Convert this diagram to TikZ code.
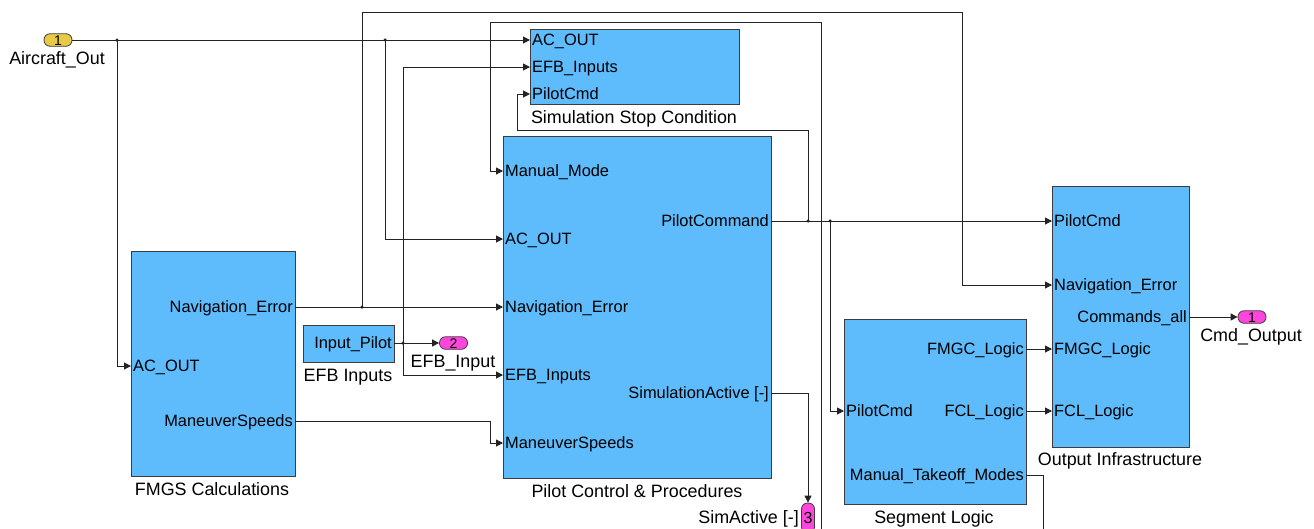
\documentclass[tikz,border=0pt]{standalone}
\usepackage{fontspec}
\setmainfont{Liberation Sans}
\usetikzlibrary{arrows.meta}
\definecolor{blkfill}{RGB}{94,187,252}
\definecolor{blkborder}{RGB}{60,60,60}
\definecolor{inyel}{RGB}{232,202,70}
\definecolor{outpink}{RGB}{255,70,220}
\definecolor{wirec}{RGB}{35,35,35}
\begin{document}
\begin{tikzpicture}[x=1pt,y=-1pt,
  block/.style={draw=blkborder, fill=blkfill, line width=1.2pt, inner sep=0, anchor=north west},
  wire/.style={draw=wirec, line width=1pt},
  arr/.style={wire, -{Triangle[length=7pt,width=7pt]}},
  portlbl/.style={font=\fontsize{16.4}{16}\selectfont, inner sep=0, text height=11.7pt, text depth=0pt},
  inlbl/.style={portlbl, anchor=west, xshift=2pt},
  outlbl/.style={portlbl, anchor=east, xshift=-2pt},
  title/.style={font=\fontsize{17.9}{18}\selectfont, inner sep=0, text height=12.8pt, text depth=0pt},
  jdot/.style={circle, fill=wirec, inner sep=0, minimum size=3.5pt},
  pill/.style={draw=blkborder, line width=0.8pt, rounded corners=6pt, inner sep=0, font=\fontsize{14}{14}\selectfont, text height=10pt, text depth=0pt},
  inport/.style={pill, fill=inyel, minimum width=28pt, minimum height=12.5pt},
  outport/.style={pill, fill=outpink, minimum width=28pt, minimum height=12.5pt},
]
\clip (0,0) rectangle (1314,528);
\fill[white] (0,0) rectangle (1314,528);

% ---------------- blocks ----------------
\node[block, minimum width=209pt, minimum height=75pt] (sim) at (530,29) {};
\node[block, minimum width=268pt, minimum height=342pt] (pc) at (503,136) {};
\node[block, minimum width=164pt, minimum height=225pt] (fm) at (131,251) {};
\node[block, minimum width=91pt, minimum height=37pt] (efb) at (303,325) {};
\node[block, minimum width=182pt, minimum height=185pt] (seg) at (844,319) {};
\node[block, minimum width=137pt, minimum height=261pt] (out) at (1052,186) {};

% block titles
\node[title] (simT) at (634,117) {Simulation Stop Condition};
\node[title] (pcT) at (637,491) {Pilot Control \& Procedures};
\node[title] (fmT) at (212,489) {FMGS Calculations};
\node[title] (efbT) at (348,375) {EFB Inputs};
\node[title] (segT) at (934,517) {Segment Logic};
\node[title] (outT) at (1120,459) {Output Infrastructure};

% ---------------- port coordinates ----------------
\coordinate (sim-ac) at (530,40);
\coordinate (sim-efb) at (530,67);
\coordinate (sim-pcmd) at (530,94);
\coordinate (pc-mm) at (503,171);
\coordinate (pc-ac) at (503,239);
\coordinate (pc-nav) at (503,307);
\coordinate (pc-efb) at (503,375);
\coordinate (pc-ms) at (503,443);
\coordinate (pc-pcmd) at (771,221);
\coordinate (pc-sa) at (771,393);
\coordinate (fm-ac) at (131,366);
\coordinate (fm-nav) at (295,307);
\coordinate (fm-ms) at (295,421);
\coordinate (efb-o) at (394,343);
\coordinate (seg-pcmd) at (844,411);
\coordinate (seg-fmgc) at (1026,349);
\coordinate (seg-fcl) at (1026,411);
\coordinate (seg-mtm) at (1026,475);
\coordinate (out-pcmd) at (1052,221);
\coordinate (out-nav) at (1052,285);
\coordinate (out-fmgc) at (1052,349);
\coordinate (out-fcl) at (1052,411);
\coordinate (out-cmd) at (1189,317);

% ---------------- port labels ----------------
\node[inlbl] (l-sim-ac) at (sim-ac) {AC\_OUT};
\node[inlbl] (l-sim-efb) at (sim-efb) {EFB\_Inputs};
\node[inlbl] (l-sim-pcmd) at (sim-pcmd) {PilotCmd};
\node[inlbl] (l-pc-mm) at (pc-mm) {Manual\_Mode};
\node[inlbl] (l-pc-ac) at (pc-ac) {AC\_OUT};
\node[inlbl] (l-pc-nav) at (pc-nav) {Navigation\_Error};
\node[inlbl] (l-pc-efb) at (pc-efb) {EFB\_Inputs};
\node[inlbl] (l-pc-ms) at (pc-ms) {ManeuverSpeeds};
\node[outlbl] (l-pc-pcmd) at (pc-pcmd) {PilotCommand};
\node[outlbl] (l-pc-sa) at (pc-sa) {SimulationActive [-]};
\node[inlbl] (l-fm-ac) at (fm-ac) {AC\_OUT};
\node[outlbl] (l-fm-nav) at (fm-nav) {Navigation\_Error};
\node[outlbl] (l-fm-ms) at (fm-ms) {ManeuverSpeeds};
\node[outlbl] (l-efb-o) at (efb-o) {Input\_Pilot};
\node[inlbl] (l-seg-pcmd) at (seg-pcmd) {PilotCmd};
\node[outlbl] (l-seg-fmgc) at (seg-fmgc) {FMGC\_Logic};
\node[outlbl] (l-seg-fcl) at (seg-fcl) {FCL\_Logic};
\node[outlbl] (l-seg-mtm) at (seg-mtm) {Manual\_Takeoff\_Modes};
\node[inlbl] (l-out-pcmd) at (out-pcmd) {PilotCmd};
\node[inlbl] (l-out-nav) at (out-nav) {Navigation\_Error};
\node[inlbl] (l-out-fmgc) at (out-fmgc) {FMGC\_Logic};
\node[inlbl] (l-out-fcl) at (out-fcl) {FCL\_Logic};
\node[outlbl] (l-out-cmd) at (out-cmd) {Commands\_all};

% ---------------- in/out ports ----------------
\node[inport] (in1) at (58,40) {1};
\node[title] (in1T) at (57,58) {Aircraft\_Out};
\node[outport] (op2) at (453.5,343) {2};
\node[title] (op2T) at (453,361) {EFB\_Input};
\node[outport] (op1) at (1252,317) {1};
\node[title] (op1T) at (1251,335) {Cmd\_Output};
\node[pill, fill=outpink, minimum width=13pt, minimum height=30pt, rounded corners=6pt, font=\fontsize{16}{16}\selectfont, text height=11.5pt] (op3) at (808,518) {3};
\node[title, anchor=east] (op3T) at (799,517) {SimActive [-]};

% ---------------- junctions & bends ----------------
\node[jdot] (j1) at (117,40) {};
\node[jdot] (j2) at (385,40) {};
\node[jdot] (j3) at (362,307) {};
\node[jdot] (j4) at (403,343) {};
\node[jdot] (j5) at (808,221) {};
\node[jdot] (j6) at (830,221) {};
\coordinate (k1) at (962,12);
\coordinate (k2) at (490,443);
\coordinate (k3) at (517,130);
\coordinate (k4) at (490,22);
\coordinate (e1) at (1043,540);
\coordinate (e2) at (821,540);

% ---------------- connectors ----------------
\draw[arr] (in1.east) -- (sim-ac);
\draw[arr] (j1.center) |- (fm-ac);
\draw[arr] (j2.center) |- (pc-ac);
\draw[arr] (fm-nav) -- (pc-nav);
\draw[arr] (j3.center) |- (k1) |- (out-nav);
\draw[arr] (efb-o) -- (op2.west);
\draw[arr] (j4.center) |- (sim-efb);
\draw[arr] (j4.center) |- (pc-efb);
\draw[arr] (fm-ms) -| (k2) -- (pc-ms);
\draw[arr] (pc-pcmd) -- (out-pcmd);
\draw[arr] (j5.center) |- (k3) |- (sim-pcmd);
\draw[arr] (j6.center) |- (seg-pcmd);
\draw[arr] (pc-sa) -| (op3.north);
\draw[arr] (seg-fmgc) -- (out-fmgc);
\draw[arr] (seg-fcl) -- (out-fcl);
\draw[arr] (out-cmd) -- (op1.west);
\draw[wire] (seg-mtm) -| (e1);
\draw[arr] (e2) |- (k4) |- (pc-mm);
\end{tikzpicture}
\end{document}
